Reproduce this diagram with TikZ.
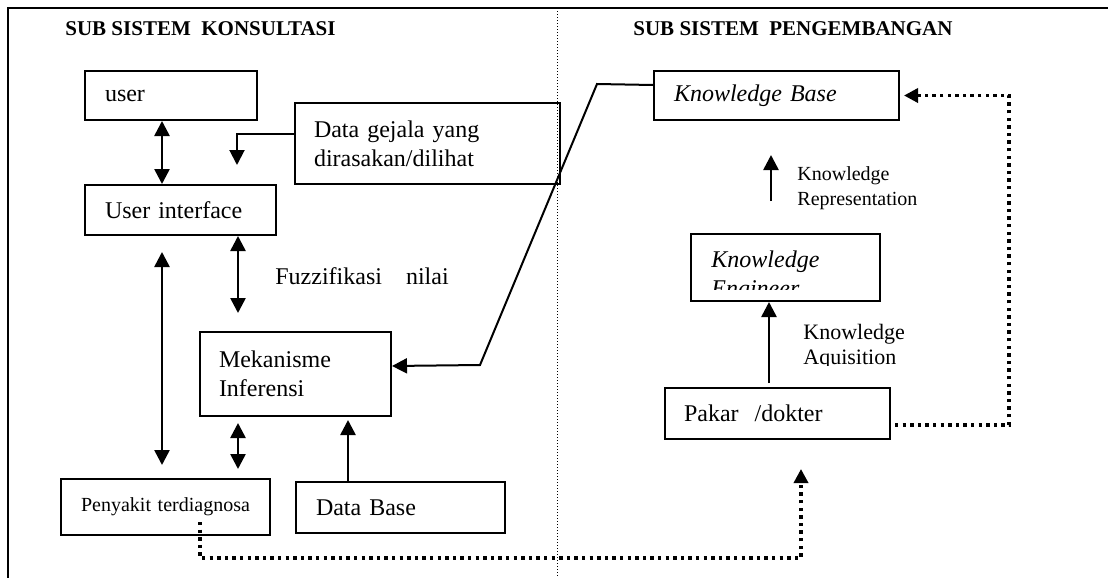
\documentclass[tikz,border=0pt]{standalone}
\usepackage{fontspec}
\setmainfont{Liberation Serif}
\usepackage{tikz}
\usetikzlibrary{arrows.meta}

\tikzset{
	box/.style={draw, line width=1pt, rectangle, anchor=north west, align=left,
		inner xsep=10pt, inner ysep=0pt, font=\fontsize{12}{14.5}\selectfont},
	arr/.style={line width=1.3pt, -{Triangle[length=7.5pt,width=7.5pt]}},
	dbl/.style={line width=1.3pt, {Triangle[length=7.5pt,width=7.5pt]}-{Triangle[length=7.5pt,width=7.5pt]}},
	dotln/.style={line width=1.7pt, dash pattern=on 1.7pt off 2.1pt,
		-{Triangle[length=7pt,width=7pt]}},
	title/.style={anchor=base west, inner sep=0pt, font=\fontsize{10.5}{12}\selectfont\bfseries},
	lbl/.style={anchor=base west, inner sep=0pt, align=left}
}

\begin{document}
\begin{tikzpicture}[x=0.5pt, y=-0.5pt]
		\useasboundingbox (0,0) rectangle (1108,578);
		% frame and divider
		\draw[line width=1.2pt] (8,578) -- (8,8) -- (1108,8);
		\draw[line width=0.5pt, dash pattern=on 0.5pt off 1pt] (557,8) -- (557,578);
		\node[title] (tkons) at (65,35) {SUB SISTEM\ \ KONSULTASI};
		\node[title] (tpeng) at (633,35) {SUB SISTEM\ \ PENGEMBANGAN};
		% sub sistem konsultasi
		\node[box, text width=66pt, minimum height=24.5pt] (user) at (84,70) {user};
		\node[box, text width=113.5pt, inner xsep=9.5pt, minimum height=40.5pt] (gejala) at (294,102)
			{Data gejala yang\\dirasakan/dilihat};
		\node[box, text width=75.5pt, minimum height=25pt] (ui) at (84,184) {User interface};
		\node[box, text width=76.5pt, inner xsep=9.5pt, minimum height=42pt] (mek) at (199,331)
			{Mekanisme\\Inferensi};
		\node[box, text width=94.5pt, inner xsep=5pt, minimum height=28pt, align=center,
			font=\fontsize{10}{12}\selectfont] (sakit) at (60,478) {Penyakit terdiagnosa};
		\node[box, text width=84.5pt, minimum height=25.5pt] (dbase) at (295,481) {Data Base};
		\node[lbl, font=\fontsize{12}{14.5}\selectfont] (fuzzy) at (275,284) {Fuzzifikasi\hspace{12pt}nilai};
		% sub sistem pengembangan
		\node[box, text width=102.5pt, minimum height=24.5pt] (kb) at (653,70) {\textit{Knowledge Base}};
		\node[box, text width=74.5pt, minimum height=33.5pt] (ke) at (690,233) {};
		\begin{scope}
			\clip (ke.north west) rectangle (879,289);
			\node[lbl, text width=80pt, font=\fontsize{12}{14.5}\selectfont\itshape] (ketext) at (711,267)
				{Knowledge\\Engineer};
		\end{scope}
		\node[box, text width=93.5pt, inner xsep=9.5pt, minimum height=25.5pt] (pakar) at (664,387)
			{Pakar\ \ /dokter};
		\node[lbl, text width=90pt, font=\fontsize{10}{12.5}\selectfont] (krep) at (797,180)
			{Knowledge\\Representation};
		\begin{scope}
			\clip (790,310) rectangle (960,365);
			\node[lbl, text width=90pt, font=\fontsize{11}{12.5}\selectfont] (kacq) at (803,339)
				{Knowledge\\Aquisition};
		\end{scope}
		% connectors
		\coordinate (gtip) at (237,165);
		\coordinate (kbbend) at (597,84);
		\coordinate (mekbend) at (480,365);
		\draw[dbl] ([xshift=-4.5pt]user.south) -- ([xshift=-4.5pt]user.south |- ui.north);
		\draw[arr, line width=1pt] ([yshift=4.75pt]gejala.west) -| (gtip);
		\draw[dbl, shorten >=9pt] ([xshift=28.75pt]ui.south) -- ([xshift=28.75pt]ui.south |- mek.north);
		\draw[dbl, shorten <=8pt, shorten >=6.5pt] ([xshift=-9.25pt]ui.south) -- ([xshift=-9.25pt]ui.south |- sakit.north);
		\draw[dbl, shorten <=3pt, shorten >=4.5pt] ([xshift=-28.75pt]mek.south) -- ([xshift=-28.75pt]mek.south |- sakit.north);
		\draw[arr, shorten >=1.5pt] ([xshift=-26.25pt]dbase.north) -- ([xshift=-26.25pt]dbase.north |- mek.south);
		\draw[arr, line width=1pt] ([yshift=5.25pt]kb.west) -- (kbbend) -- (mekbend) -- ([yshift=4pt]mek.east);
		\draw[arr, shorten <=16pt, shorten >=17pt] ([xshift=-7.25pt]ke.north) -- ([xshift=-7.25pt]ke.north |- kb.south);
		\draw[arr, shorten <=2pt] ([xshift=-4.25pt]pakar.north) -- ([xshift=-4.25pt]pakar.north |- ke.south);
		\draw[dotln, shorten <=2pt, shorten >=2pt] ([yshift=-5.75pt]pakar.east) -- ++(59pt,0) |- (kb.east);
		\draw[dotln, shorten >=14.5pt] ([xshift=17.25pt, yshift=7pt]sakit.south) -- ++(0,-18pt)
			-| ([xshift=11.75pt]pakar.south);
\end{tikzpicture}
\end{document}
